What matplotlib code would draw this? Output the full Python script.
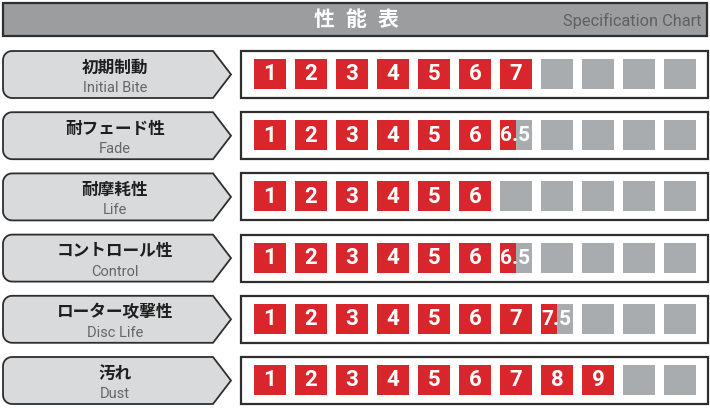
import numpy as np
import matplotlib
matplotlib.use("Agg")
import matplotlib.pyplot as plt
from matplotlib.patches import Rectangle, Polygon

# chart data
labels_jp = ['初期制動', '耐フェード性', '耐摩耗性', 'コントロール性', 'ローター攻撃性', '汚れ']
labels_en = ['Initial Bite', 'Fade', 'Life', 'Control', 'Disc Life', 'Dust']
scores = [7, 6.5, 6, 6.5, 7.5, 9]
max_score = 11
title_chars = ['性', '能', '表']
title_en = 'Specification Chart'

RED = '#d8262c'
GRAY = '#a9acaf'
LABEL_FILL = '#d9dadb'
EDGE = '#2e2e2e'
JP = ['Noto Sans CJK JP', 'DejaVu Sans']
NUM = ['Roboto', 'DejaVu Sans']

fig = plt.figure(figsize=(7.1, 4.2), dpi=100)
ax = fig.add_axes([0, 0, 1, 1])
ax.set_xlim(0, 710)
ax.set_ylim(420, 0)
ax.axis('off')

# title bar
ax.add_patch(Rectangle((3, 3), 704, 33, facecolor='#9b9d9f', edgecolor=EDGE, lw=1.6))
for k, ch in enumerate(title_chars):
    ax.text(324 + k * 32, 20, ch, color='white', fontsize=15, fontweight='bold',
            family=JP, ha='center', va='center')
ax.text(702, 21, title_en, color='#5e6062', fontsize=11.8, family=NUM,
        ha='right', va='center')


def label_shape(top, h, x0=3, x_flat=213, tip=231, r=9):
    bot = top + h
    pts = [(x_flat, top), (tip, top + h / 2), (x_flat, bot)]
    # bottom-left rounded corner
    for a in np.linspace(90, 180, 8):
        t = np.radians(a)
        pts.append((x0 + r + r * np.cos(t), bot - r + r * np.sin(t)))
    # top-left rounded corner
    for a in np.linspace(180, 270, 8):
        t = np.radians(a)
        pts.append((x0 + r + r * np.cos(t), top + r + r * np.sin(t)))
    return pts


row_top0 = 51
pitch = 61.2
row_h = 47
sq_w, sq_h, sq_x0, sq_pitch = 32, 30, 254, 41

for i, (jp, en, sc) in enumerate(zip(labels_jp, labels_en, scores)):
    top = row_top0 + i * pitch
    ax.add_patch(Polygon(label_shape(top, row_h), closed=True, facecolor=LABEL_FILL,
                         edgecolor=EDGE, lw=1.3))
    ax.text(115, top + 16.5, jp, fontsize=12, fontweight='bold', family=JP,
            ha='center', va='center', color='#1e1e1e')
    ax.text(115, top + 37, en, fontsize=10.5, family=NUM,
            ha='center', va='center', color='#666666')

    ax.add_patch(Rectangle((241, top), 467, row_h, facecolor='white',
                           edgecolor=EDGE, lw=1.6))
    for k in range(max_score):
        x = sq_x0 + k * sq_pitch
        y = top + 8
        n = k + 1
        if n <= sc:
            ax.add_patch(Rectangle((x, y), sq_w, sq_h, facecolor=RED, lw=0))
            ax.text(x + sq_w / 2, y + sq_h / 2 + 0.5, str(n), color='white', fontsize=16,
                    family=NUM, fontweight='bold', ha='center', va='center')
        elif n - 0.5 <= sc:
            ax.add_patch(Rectangle((x, y), sq_w / 2, sq_h, facecolor=RED, lw=0))
            ax.add_patch(Rectangle((x + sq_w / 2, y), sq_w / 2, sq_h, facecolor=GRAY, lw=0))
            ax.text(x + sq_w / 2 - 1, y + sq_h / 2 + 0.5, f'{sc:g}', color='white', fontsize=15,
                    family=NUM, fontweight='bold', ha='center', va='center')
        else:
            ax.add_patch(Rectangle((x, y), sq_w, sq_h, facecolor=GRAY, lw=0))

fig.savefig('out.png', dpi=100)
